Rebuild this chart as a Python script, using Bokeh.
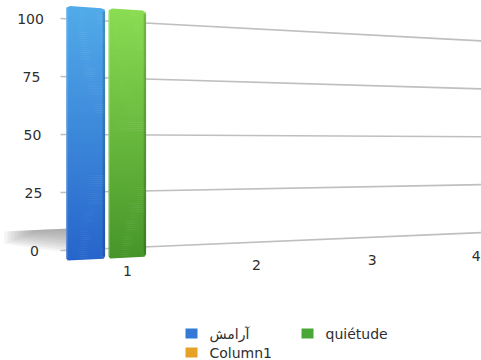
import math

from bokeh.core.properties import value
from bokeh.embed import file_html
from bokeh.models import Range1d
from bokeh.plotting import figure
from bokeh.resources import INLINE

# ---- data -------------------------------------------------------------
categories = ["1", "2", "3", "4"]
series_names = ["آرامش", "quiétude", "Column1"]
aramesh = [100, None, None, None]
quietude = [100, None, None, None]
column1 = [None, None, None, None]
y_ticks = [0, 25, 50, 75, 100]

series_values = [aramesh, quietude, column1]
series_top = ["#52abe9", "#8adc52", "#f4be40"]
series_bottom = ["#2765cb", "#47952a", "#d88c10"]
series_swatch = ["#3479d6", "#4aa637", "#e6a224"]

# ---- perspective layout ----------------------------------------------
W, H = 481, 360
PX = 2.32              # pixels per value unit at the near edge of the wall
ZERO_ROW = 250.0       # screen row of value 0 at the near edge of the wall
WALL_X = 60.0          # screen column where the back wall begins
WALL_END = 490.0
VX = 2485.0            # column of the vanishing point
HORIZON = (ZERO_ROW - 147.0) / PX   # height of the vanishing point (value units)
FRONT = 1.10           # bar plane sits in front of the wall
K = 0.0596             # foreshortening per category
D = 2428.3
SLOT = 0.30            # spacing of series slots inside a category
BAR_W = 0.275
FONT = "DejaVu Sans"
TEXT_COLOR = "#2e2e2e"


def row(y_px):
    """screen row (px from top) -> value units of the figure's y range"""
    return (ZERO_ROW - y_px) / PX


def depth(x):
    return (VX - x) / (VX - WALL_X)


def wall_y(x, v):
    return HORIZON + (v - HORIZON) * depth(x)


def front_y(x, v):
    return HORIZON + FRONT * (v - HORIZON) * depth(x)


def cat_x(u):
    return VX - D / (1.0 + K * u)


def mix(c0, c1, t):
    a = [int(c0[i:i + 2], 16) for i in (1, 3, 5)]
    b = [int(c1[i:i + 2], 16) for i in (1, 3, 5)]
    return "#%02x%02x%02x" % tuple(round(a[j] + (b[j] - a[j]) * t) for j in range(3))


def inset(d, r):
    if d >= r:
        return 0.0
    return r - math.sqrt(max(0.0, r * r - (r - d) ** 2))


p = figure(width=W, height=H, x_range=Range1d(0, W), y_range=Range1d(row(H), row(0)),
           output_backend="svg", toolbar_location=None, min_border=0,
           x_axis_type=None, y_axis_type=None)
p.outline_line_color = None
p.background_fill_color = "white"
p.border_fill_color = "white"

# ---- floor shadow to the left of the first category's bars ------------
first = next(s for s, vals in enumerate(series_values) if vals[0] is not None)
u_first = 0.5 + (first - 1) * SLOT - BAR_W / 2
ax = cat_x(u_first)
ay_px = ZERO_ROW - front_y(ax, 0) * PX
layers = 10
for k in range(layers):
    f = 1.0 - k / layers          # depth of this layer below the top edge
    g = 1.0 - 0.55 * k / layers   # how far this layer reaches to the left
    pts = [(4, -32), (-62 * g, -32 + 3 * g), (-62 * g, -32 + 3 * g + 12 * f),
           (-30 * g, -32 + 20 * f), (4, -32 + 24 * f)]
    p.patch([ax + dx for dx, dy in pts], [row(ay_px + dy) for dx, dy in pts],
            fill_color="#777777", fill_alpha=0.08, line_color=None)

# ---- receding grid lines on the back wall ------------------------------
for v in y_ticks:
    p.line([WALL_X, WALL_END], [wall_y(WALL_X, v), wall_y(WALL_END, v)],
           line_color="#bfbfbf", line_width=1.7)

# ---- value labels ------------------------------------------------------
p.text(x=[30 + (100 - v) * 0.04 for v in y_ticks], y=y_ticks,
       text=[str(v) for v in y_ticks], text_align="center", text_baseline="middle",
       text_font=value(FONT), text_font_size="14px", text_color=TEXT_COLOR)

# ---- category labels along the floor ----------------------------------
cx = [cat_x(i + 0.5) for i in range(len(categories))]
p.text(x=cx, y=[wall_y(x, 0) - 23 / PX for x in cx], text=categories,
       text_align="center", text_baseline="middle",
       text_font=value(FONT), text_font_size="14px", text_color=TEXT_COLOR)

# ---- bars (shaded in thin horizontal slices) ---------------------------
R_TOP, R_BOT = 3.5, 1.5
OVERLAP = 0.6 / PX
for s, vals in enumerate(series_values):
    for i, v in enumerate(vals):
        if v is None:
            continue
        uc = i + 0.5 + (s - 1) * SLOT
        x0, x1 = cat_x(uc - BAR_W / 2), cat_x(uc + BAR_W / 2)
        yb0, yb1 = front_y(x0, 0), front_y(x1, 0)
        yt0, yt1 = front_y(x0, v), front_y(x1, v)
        h_px = (yt0 - yb0) * PX
        n = max(int(h_px / 2.0), 10)
        pts = []
        for j in range(n + 1):
            t = j / n
            ins = max(inset((1 - t) * h_px, R_TOP), inset(t * h_px, R_BOT))
            pts.append((x0 + ins, x1 - ins, yb0 + t * (yt0 - yb0), yb1 + t * (yt1 - yb1)))
        xs, ys, cols = [], [], []
        for j in range(n):
            a, b = pts[j], pts[j + 1]
            top_l = b[2] if j == n - 1 else b[2] + OVERLAP
            top_r = b[3] if j == n - 1 else b[3] + OVERLAP
            xs.append([a[0], a[1], b[1], b[0]])
            ys.append([a[2], a[3], top_r, top_l])
            cols.append(mix(series_bottom[s], series_top[s], (j + 0.5) / n))
        p.patches(xs, ys, fill_color=cols, line_color=None)

        # darker right edge and soft highlight on the left edge
        t_hi = 1 - R_TOP / h_px
        p.patch([x1 - 2.4, x1, x1, x1 - 2.4],
                [yb1 + 0.01 * (yt1 - yb1), yb1 + 0.01 * (yt1 - yb1),
                 yb1 + t_hi * (yt1 - yb1), yb1 + t_hi * (yt1 - yb1)],
                fill_color="#000000", fill_alpha=0.16, line_color=None)
        p.patch([x0, x0 + 1.3, x0 + 1.3, x0],
                [yb0 + 0.01 * (yt0 - yb0), yb0 + 0.01 * (yt0 - yb0),
                 yb0 + t_hi * (yt0 - yb0), yb0 + t_hi * (yt0 - yb0)],
                fill_color="#ffffff", fill_alpha=0.22, line_color=None)

# ---- legend ------------------------------------------------------------
LEG_X, LEG_Y = 185, 328
COL_W, ROW_H = 116, 19
for k, name in enumerate(series_names):
    r, c = divmod(k, 2)
    lx, ly = LEG_X + c * COL_W, LEG_Y + r * ROW_H
    p.quad(left=[lx], right=[lx + 12], top=[row(ly)], bottom=[row(ly + 10)],
           fill_color=series_swatch[k], line_color=None)
    p.text(x=[lx + 24], y=[row(ly + 5)], text=[name], text_align="left",
           text_baseline="middle", text_font=value(FONT), text_font_size="14px",
           text_color=TEXT_COLOR)

open("out.html", "w").write(file_html(p, INLINE))
